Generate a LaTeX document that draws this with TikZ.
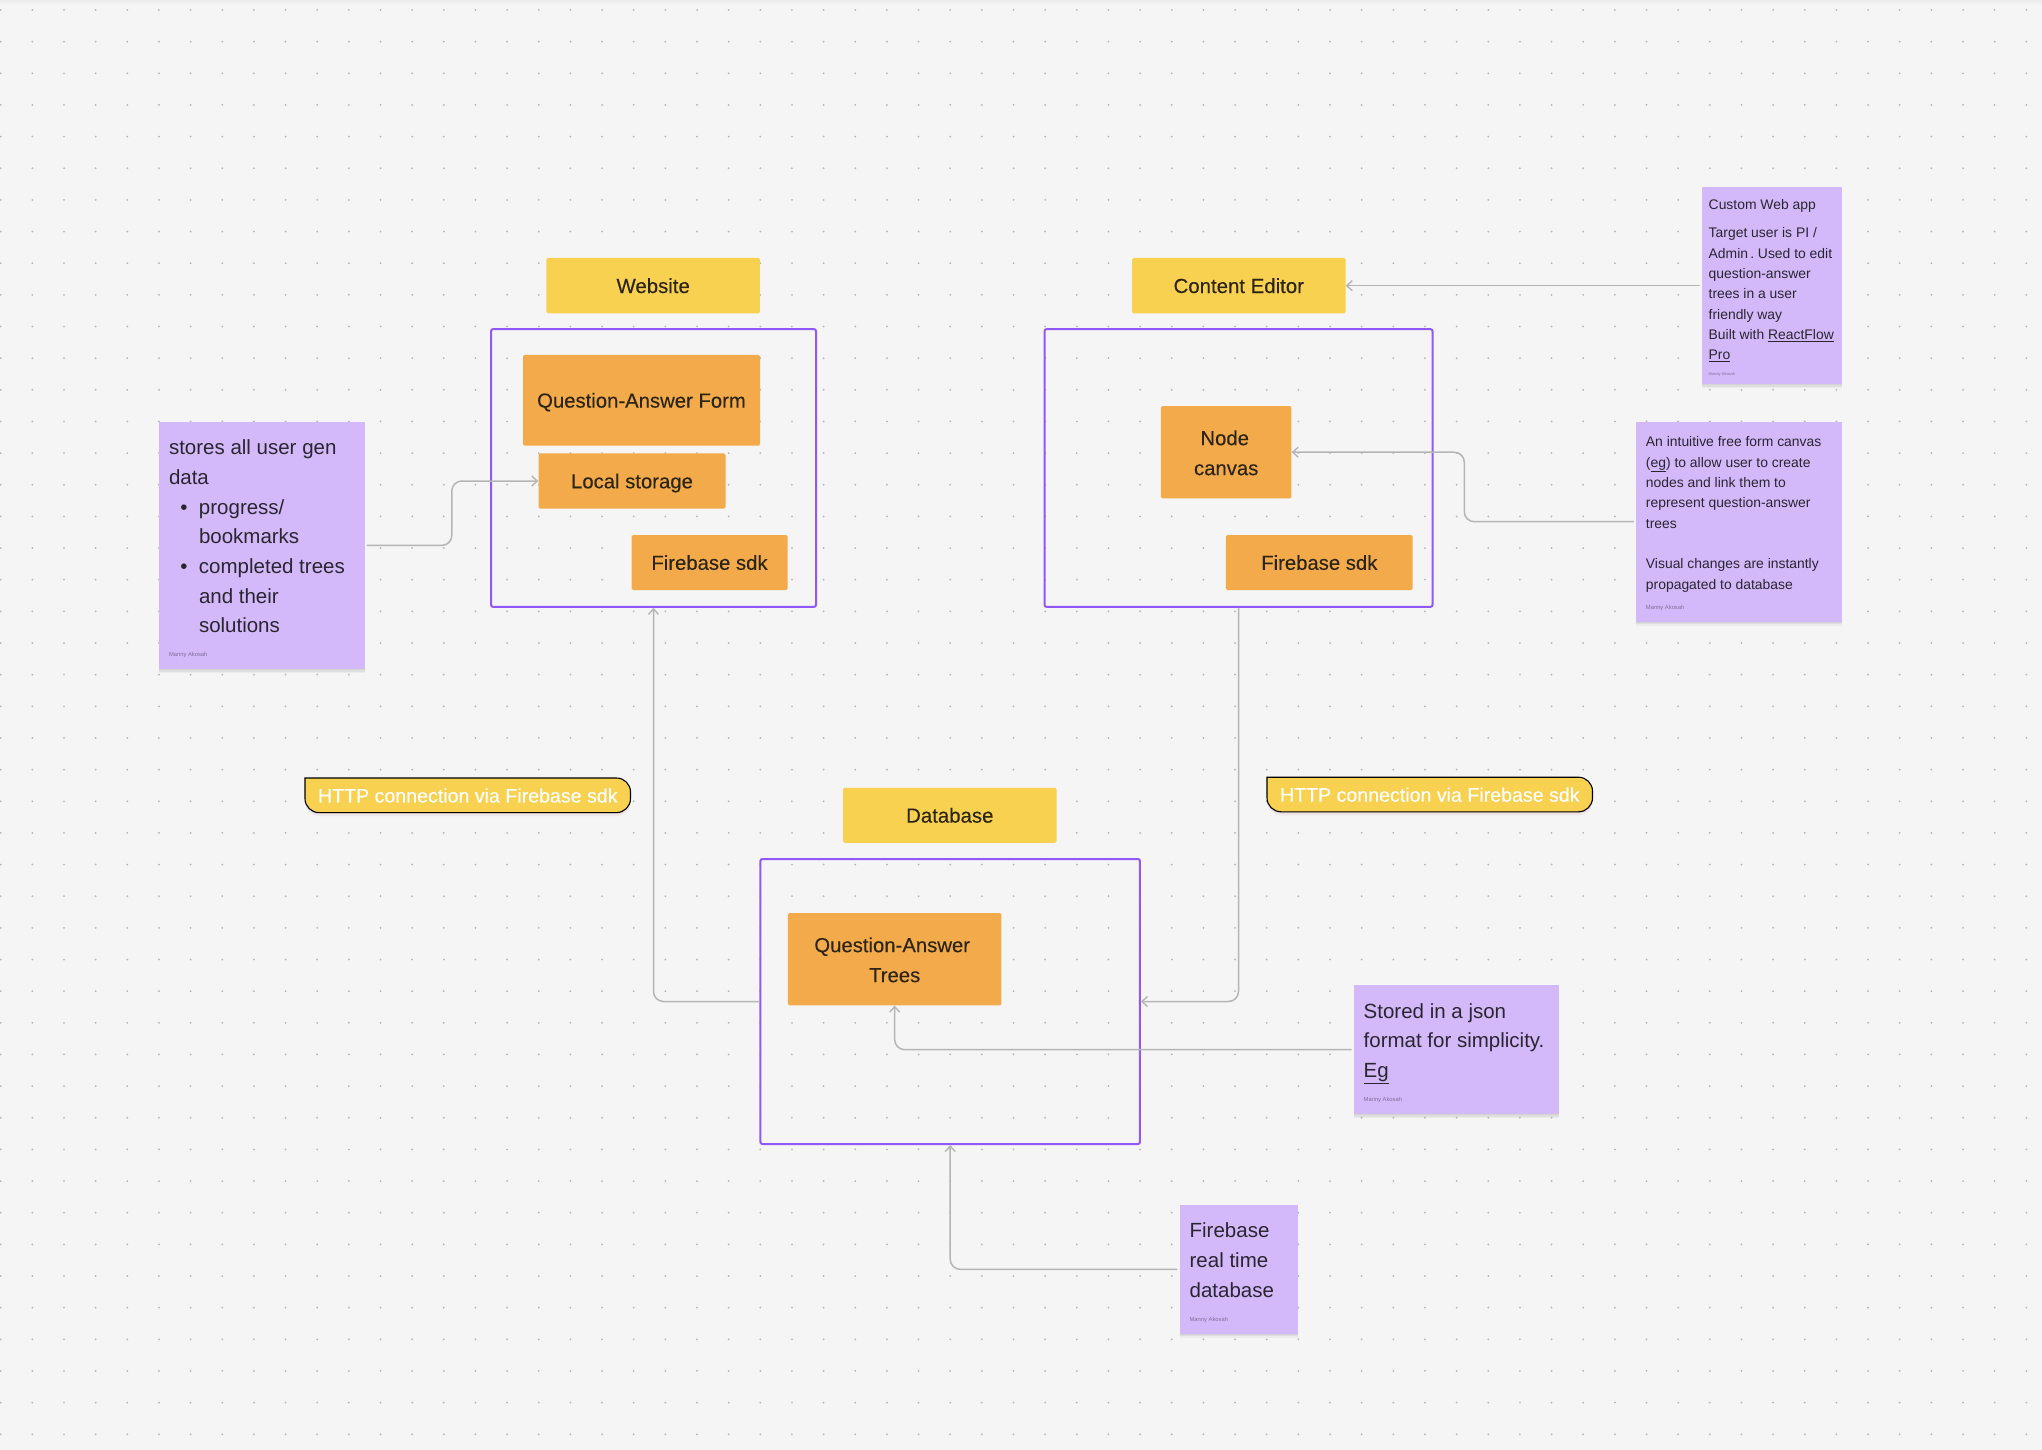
\documentclass[tikz,border=0pt]{standalone}
\usepackage{fontspec}
\setmainfont{Liberation Sans}
\newfontfamily\boxfont[FakeBold=0.12]{Liberation Sans}
\usetikzlibrary{arrows.meta, positioning, shadows}

\definecolor{paper}{HTML}{F5F5F5}
\definecolor{griddot}{HTML}{B4B4B4}
\definecolor{labelyellow}{HTML}{F7D14F}
\definecolor{boxorange}{HTML}{F2AA4A}
\definecolor{notepurple}{HTML}{D3B9FA}
\definecolor{framepurple}{HTML}{9059F7}
\definecolor{linkgrey}{HTML}{B5B5B5}
\definecolor{inkdark}{HTML}{2B2530}
\definecolor{inkbrown}{HTML}{2C2416}
\definecolor{signgrey}{HTML}{7F6D98}

% keep the text of a box at one height, whatever its letters
\newcommand{\boxstrut}{\rule[-7.7pt]{0pt}{30pt}}
\newcommand{\firststrut}{\rule{0pt}{23.6pt}}

\tikzset{
  labelbox/.style={fill=labelyellow, rounded corners=1.5pt, inner sep=0pt, text=inkbrown,
    font=\boxfont\fontsize{20.4}{30}\selectfont, execute at begin node=\boxstrut},
  orangebox/.style={fill=boxorange, rounded corners=1.5pt, inner sep=0pt, align=center,
    text=inkbrown, font=\boxfont\fontsize{20.3}{30}\selectfont, execute at begin node=\boxstrut},
  framebox/.style={draw=framepurple, line width=2pt, rounded corners=2pt, inner sep=0pt},
  notebox/.style={fill=notepurple, inner sep=0pt,
    drop shadow={shadow xshift=0pt, shadow yshift=-1pt, opacity=.05, fill=black},
    drop shadow={shadow xshift=0pt, shadow yshift=-2.5pt, opacity=.05, fill=black},
    drop shadow={shadow xshift=0pt, shadow yshift=-4pt, opacity=.04, fill=black}},
  notebig/.style={inner sep=0pt, align=left, text=inkdark, font=\fontsize{20.5}{29.7}\selectfont},
  notesmall/.style={inner sep=0pt, align=left, text=inkdark, font=\fontsize{13.9}{20.3}\selectfont},
  signnote/.style={inner sep=0pt, text=signgrey, font=\fontsize{5.8}{7}\selectfont},
  link/.style={draw=linkgrey, line width=1.5pt, rounded corners=10pt, shorten <=2pt,
    -{Straight Barb[length=5.5pt, width=10pt, line width=1.4pt]}},
  pillfill/.style={fill=labelyellow, draw=black, line width=1.1pt,
    drop shadow={shadow xshift=0pt, shadow yshift=-1.5pt, opacity=.07, fill=red!60!black},
    drop shadow={shadow xshift=0pt, shadow yshift=-3.5pt, opacity=.05, fill=red!60!black}},
  pilltext/.style={inner sep=0pt, text=white, font=\boxfont\fontsize{19.6}{24}\selectfont},
}

\begin{document}
\begin{tikzpicture}[x=1pt, y=-1pt]
\fill[paper] (0,0) rectangle (2042,1450);
\useasboundingbox (0,0) rectangle (2042,1450);
\shade[top color=black!4!paper, bottom color=paper] (0,0) rectangle (2042,4);

% dot grid of the canvas
\foreach \i in {0,...,64}
  \foreach \j in {0,...,45}
    \fill[griddot] (0.7+31.65*\i, 10+31.65*\j) circle (1pt);

% website
\node[labelbox, minimum width=213.5pt, minimum height=55.5pt] (siteLabel) at (653.2,285.7) {Website};
\node[framebox, minimum width=325pt, minimum height=277.7pt] (siteBox) at (653.5,468) {};
\node[orangebox, minimum width=237pt, minimum height=90.7pt] (formBox) at (641.5,400.3) {Question-Answer Form};
\node[orangebox, minimum width=187pt, minimum height=55.4pt] (storeBox) at (632,481) {Local storage};
\node[orangebox, minimum width=156pt, minimum height=55pt] (sdkBox) at (709.5,562.5) {Firebase sdk};

% content editor
\node[labelbox, minimum width=213.5pt, minimum height=55.5pt] (editLabel) at (1238.8,285.7) {Content Editor};
\node[framebox, minimum width=388pt, minimum height=277.7pt] (editBox) at (1238.5,468) {};
\node[orangebox, minimum width=130.5pt, minimum height=92.3pt] (canvasBox) at (1226.2,452.2) {\firststrut Node\hspace*{3pt}\\canvas};
\node[orangebox, minimum width=186.7pt, minimum height=55pt] (sdkBoxB) at (1319.3,562.5) {Firebase sdk};

% database
\node[labelbox, minimum width=213.5pt, minimum height=55pt] (dbLabel) at (949.8,815.3) {Database};
\node[framebox, minimum width=379.5pt, minimum height=285pt] (dbBox) at (950.2,1001.5) {};
\node[orangebox, minimum width=213.5pt, minimum height=92.4pt] (treesBox) at (894.7,959.2) {\firststrut Question-Answer\hspace*{5pt}\\Trees};

% sticky notes
\node[notebox, minimum width=205.6pt, minimum height=247.3pt] (userNote) at (261.8,545.4) {};
\node[notebig, below right=18pt and 10pt of userNote.north west] (userText) {stores all user gen\\data\\
  \hspace*{30pt}\llap{\textbullet\hspace{11.5pt}}progress/\\\hspace*{30pt}bookmarks\\
  \hspace*{30pt}\llap{\textbullet\hspace{11.5pt}}completed trees\\\hspace*{30pt}and their\\\hspace*{30pt}solutions};
\node[signnote, above right=11pt and 10pt of userNote.south west] (userSign) {Manny Akosah};

\node[notebox, minimum width=140pt, minimum height=196.7pt] (webNote) at (1771.7,285.7) {};
\node[notesmall, below right=12pt and 7pt of webNote.north west] (webTextA) {Custom Web app};
\node[notesmall, below right=40.4pt and 7pt of webNote.north west] (webTextB) {Target user is PI /\\Admin\hspace{-1.5pt} .\hspace{-1.5pt} Used to edit\\
  question-answer\\trees in a user\\friendly way\\Built with \underline{ReactFlow}\\\underline{Pro}};
\node[signnote, font=\fontsize{4}{5}\selectfont, above right=8pt and 7pt of webNote.south west] (webSign) {Manny Akosah};

\node[notebox, minimum width=205.7pt, minimum height=200pt] (canvasNote) at (1738.8,521.7) {};
\node[notesmall, below right=15.2pt and 10pt of canvasNote.north west] (canvasText) {An intuitive free form canvas\\
  (\underline{eg}) to allow user to create\\nodes and link them to\\represent question-answer\\trees\\[20.3pt]
  Visual changes are instantly\\propagated to database};
\node[signnote, above right=11pt and 10pt of canvasNote.south west] (canvasSign) {Manny Akosah};

\node[notebox, minimum width=205.6pt, minimum height=128.7pt] (storedNote) at (1456.5,1049.7) {};
\node[notebig, below right=18pt and 10pt of storedNote.north west] (storedText) {Stored in a json\\format for simplicity.\\\underline{Eg}};
\node[signnote, above right=11pt and 10pt of storedNote.south west] (storedSign) {Manny Akosah};

\node[notebox, minimum width=118.3pt, minimum height=128.7pt] (fbNote) at (1238.8,1269.3) {};
\node[notebig, below right=18pt and 10pt of fbNote.north west] (fbText) {Firebase\\real time\\database};
\node[signnote, above right=11pt and 10pt of fbNote.south west] (fbSign) {Manny Akosah};

% http tags, only the top left corner is square
\foreach \px/\py/\pname in {305/778/pillLeft, 1267/777.2/pillRight} {
  \filldraw[pillfill] (\px,\py) [rounded corners=14pt] -- ++(325.5,0) -- ++(0,34.6) -- ++(-325.5,0) [sharp corners] -- cycle;
  \node[pilltext] (\pname) at (\px+162.8,\py+17.5) {HTTP connection via Firebase sdk};
}

% connectors
\coordinate (storeBend) at (451.8,481);
\coordinate (canvasBend) at (1464.3,452.2);
\draw[link] (userNote.east) -| (storeBend) -- (storeBox.west);
\draw[link, shorten <=0pt] (dbBox.west) -| (siteBox.south);
\draw[link, shorten <=0pt] (editBox.south) |- (dbBox.east);
\draw[link] (webNote.west) -- (editLabel.east);
\draw[link] (canvasNote.west) -| (canvasBend) -- (canvasBox.east);
\draw[link] (storedNote.west) -| (treesBox.south);
\draw[link] (fbNote.west) -| (dbBox.south);
\end{tikzpicture}
\end{document}
